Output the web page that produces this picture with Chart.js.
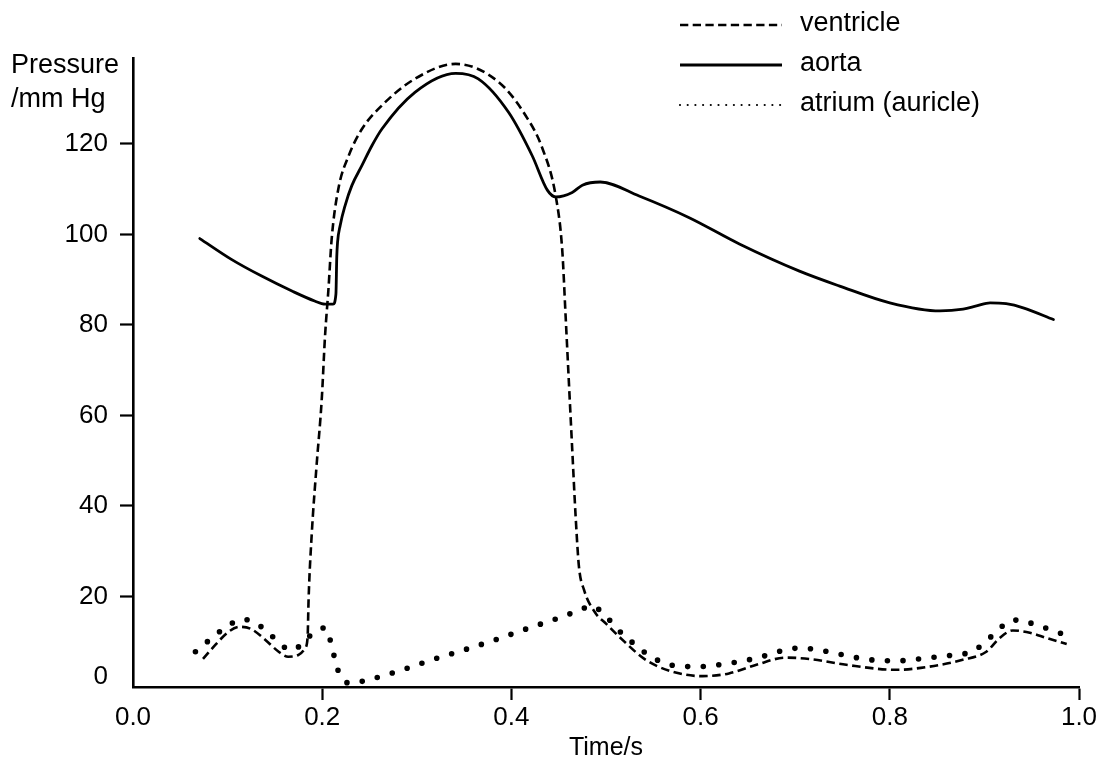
<!DOCTYPE html>
<html>
<head>
<meta charset="utf-8">
<title>Pressure changes during the cardiac cycle</title>
<style>
  html, body { margin: 0; padding: 0; background: #ffffff; }
  #wrap { width: 1111px; height: 765px; position: relative; }
</style>
<script src="https://cdn.jsdelivr.net/npm/chart.js@4/dist/chart.umd.min.js"></script>
</head>
<body>
<div id="wrap"><canvas id="chart"></canvas></div>
<script>
// ---- data: time (s) and pressure (mm Hg) for each trace ----
const seriesNames = ['ventricle', 'aorta', 'atrium (auricle)'];

const ventricleT = [0.074, 0.087, 0.101, 0.113, 0.125, 0.140, 0.154, 0.164, 0.175, 0.182,
  0.1846, 0.1856, 0.189, 0.194, 0.1995, 0.203, 0.2066, 0.210, 0.217, 0.228, 0.242, 0.263,
  0.298, 0.341, 0.387, 0.415, 0.433, 0.447, 0.4537, 0.4573, 0.4608, 0.4643, 0.4679, 0.4714,
  0.4767, 0.489, 0.500, 0.514, 0.542, 0.570, 0.602, 0.630, 0.659, 0.690, 0.7185, 0.754,
  0.807, 0.842, 0.877, 0.902, 0.916, 0.930, 0.948, 0.966, 0.987];
const ventricleP = [6.2, 9.3, 12.2, 13.3, 12.8, 10.4, 7.8, 6.7, 7.1, 8.6,
  11.1, 19.3, 34.0, 48.8, 63.5, 77.6, 87.9, 99.0, 110.0, 117.4, 123.3, 128.5,
  134.4, 137.7, 133.6, 126.3, 118.9, 108.3, 96.7, 82.0, 67.2, 52.5, 37.7, 26.6,
  21.5, 16.3, 14.0, 11.1, 6.0, 3.4, 2.4, 3.0, 4.9, 6.5, 6.1, 4.9,
  3.8, 4.5, 6.0, 7.8, 10.8, 12.5, 12.0, 10.8, 9.5];

const aortaT = [0.0706, 0.104, 0.136, 0.168, 0.192, 0.203, 0.2115, 0.2145, 0.2154, 0.2162,
  0.2190, 0.2242, 0.2313, 0.2419, 0.2525, 0.2631, 0.298, 0.341, 0.365, 0.397, 0.422, 0.438,
  0.447, 0.4643, 0.475, 0.494, 0.535, 0.588, 0.641, 0.7045, 0.747, 0.800, 0.853, 0.8775,
  0.8916, 0.906, 0.923, 0.941, 0.973];
const aortaP = [99.1, 94.5, 90.8, 87.5, 85.3, 84.6, 84.6, 86.8, 95.0, 98.2,
  102.0, 106.4, 110.8, 115.2, 119.6, 123.3, 131.4, 135.6, 134.4, 127.0, 117.4, 109.8,
  108.3, 109.3, 110.9, 111.6, 108.5, 103.7, 97.9, 91.9, 88.6, 84.9, 83.1, 83.5,
  84.2, 84.9, 84.7, 83.8, 81.2];

const atriumT = [0.066, 0.082, 0.098, 0.116, 0.131, 0.144, 0.155, 0.169, 0.185, 0.203,
  0.209, 0.213, 0.218, 0.230, 0.247, 0.282, 0.316, 0.350, 0.384, 0.418, 0.452, 0.470,
  0.485, 0.500, 0.513, 0.527, 0.542, 0.558, 0.576, 0.593, 0.609, 0.625, 0.641, 0.657,
  0.673, 0.689, 0.706, 0.724, 0.742, 0.759, 0.777, 0.793, 0.810, 0.827, 0.844, 0.860,
  0.876, 0.891, 0.903, 0.915, 0.925, 0.938, 0.952, 0.968, 0.983];
const atriumP = [7.8, 10.6, 13.2, 15.0, 13.9, 11.9, 9.5, 8.2, 11.0, 13.1,
  10.0, 6.5, 3.0, 0.8, 1.5, 3.6, 6.0, 8.2, 10.5, 13.0, 15.4, 16.8,
  17.9, 15.6, 12.6, 10.0, 7.5, 5.6, 4.6, 4.5, 4.6, 5.1, 5.6, 6.3,
  7.2, 8.2, 8.6, 8.2, 7.5, 6.7, 6.1, 5.8, 5.8, 6.1, 6.5, 6.9,
  7.2, 8.3, 10.4, 12.6, 14.5, 14.8, 13.9, 12.8, 11.7];

const xTickValues = [0, 0.2, 0.4, 0.6, 0.8, 1.0];
const yTickValues = [0, 20, 40, 60, 80, 100, 120];
const xTitle = 'Time/s';
const yTitleLines = ['Pressure', '/mm Hg'];

// ---- drawing ----
const FAMILY = '"Liberation Sans", Arial, Helvetica, sans-serif';
const INK = '#000000';
const TICK_FONT = 26;
const toPoints = (ts, ps) => ts.map((t, i) => ({ x: t, y: ps[i] }));

// line styles used for the traces and for the key samples
const traceStyles = [
  { width: 2.6, dash: [8.5, 4.5], cap: 'butt', keyWidth: 2.6, keyDash: [8.3, 4.4], keyCap: 'butt' },
  { width: 2.8, dash: [], cap: 'round', keyWidth: 3, keyDash: [], keyCap: 'butt' },
  { width: 5.6, dash: [0, 15.6], cap: 'round', keyWidth: 2.2, keyDash: [0, 7.7], keyCap: 'round' }
];

// key at the upper right, title of the pressure axis, and the raised zero label
const decorations = {
  id: 'decorations',
  afterDraw(chart) {
    const ctx = chart.ctx;
    ctx.save();
    ctx.fillStyle = INK;
    ctx.strokeStyle = INK;

    // pressure axis title, written horizontally above the axis
    ctx.font = '27px ' + FAMILY;
    ctx.textAlign = 'left';
    ctx.textBaseline = 'alphabetic';
    ctx.fillText(yTitleLines[0], 11, 73);
    ctx.fillText(yTitleLines[1], 11, 107);

    // "0" sits a little above the time axis line
    const ys = chart.scales.y;
    ctx.font = TICK_FONT + 'px ' + FAMILY;
    ctx.textAlign = 'right';
    ctx.textBaseline = 'middle';
    ctx.fillText(String(yTickValues[0]), ys.right - 25, ys.getPixelForValue(0) - 10);

    // key
    const keyX0 = 680, keyX1 = 782, textX = 800, firstBase = 31, rowGap = 40;
    ctx.font = '27px ' + FAMILY;
    ctx.textAlign = 'left';
    ctx.textBaseline = 'alphabetic';
    seriesNames.forEach((name, i) => {
      const s = traceStyles[i];
      const base = firstBase + i * rowGap;
      const ly = base - 6;
      ctx.save();
      ctx.lineWidth = s.keyWidth;
      ctx.lineCap = s.keyCap;
      ctx.setLineDash(s.keyDash);
      ctx.beginPath();
      ctx.moveTo(keyX0, ly);
      ctx.lineTo(keyX1, ly);
      ctx.stroke();
      ctx.restore();
      ctx.fillText(name, textX, base);
    });
    ctx.restore();
  }
};

const seriesData = [
  toPoints(ventricleT, ventricleP),
  toPoints(aortaT, aortaP),
  toPoints(atriumT, atriumP)
];

const datasets = seriesNames.map((name, i) => ({
  label: name,
  data: seriesData[i],
  borderColor: INK,
  backgroundColor: INK,
  borderWidth: traceStyles[i].width,
  borderDash: traceStyles[i].dash,
  borderCapStyle: traceStyles[i].cap,
  borderJoinStyle: 'round',
  cubicInterpolationMode: 'monotone',
  pointRadius: 0,
  pointHoverRadius: 0,
  fill: false
}));

const tickMarkColor = (c) => (c.tick && c.tick.value === 0 ? 'rgba(0,0,0,0)' : INK);

new Chart(document.getElementById('chart'), {
  type: 'line',
  data: { datasets },
  options: {
    responsive: true,
    maintainAspectRatio: false,
    animation: false,
    events: [],
    layout: { padding: { top: 58, right: 32, bottom: 0, left: 0 } },
    plugins: {
      legend: { display: false },
      tooltip: { enabled: false },
      title: { display: false }
    },
    scales: {
      x: {
        type: 'linear',
        min: 0,
        max: 1,
        afterBuildTicks: (s) => { s.ticks = xTickValues.map(v => ({ value: v })); },
        afterFit: (s) => { s.height = 78; },
        border: { display: true, color: INK, width: 2.6 },
        grid: {
          display: true,
          drawOnChartArea: false,
          drawTicks: true,
          tickLength: 13,
          tickWidth: 2.2,
          tickColor: tickMarkColor
        },
        ticks: {
          color: INK,
          font: { family: FAMILY, size: TICK_FONT },
          padding: 2,
          maxRotation: 0,
          autoSkip: false,
          callback: (v) => Number(v).toFixed(1)
        },
        title: {
          display: true,
          text: xTitle,
          color: INK,
          font: { family: FAMILY, size: 25 },
          padding: { top: 0, bottom: 2 }
        }
      },
      y: {
        type: 'linear',
        min: 0,
        max: 139,
        afterBuildTicks: (s) => { s.ticks = yTickValues.map(v => ({ value: v })); },
        afterFit: (s) => { s.width = 133; },
        border: { display: true, color: INK, width: 2.6 },
        grid: {
          display: true,
          drawOnChartArea: false,
          drawTicks: true,
          tickLength: 13,
          tickWidth: 2.2,
          tickColor: tickMarkColor
        },
        ticks: {
          color: INK,
          font: { family: FAMILY, size: TICK_FONT },
          padding: 12,
          autoSkip: false,
          callback: (v) => (v === 0 ? '' : String(v))
        }
      }
    }
  },
  plugins: [decorations]
});
</script>
</body>
</html>
